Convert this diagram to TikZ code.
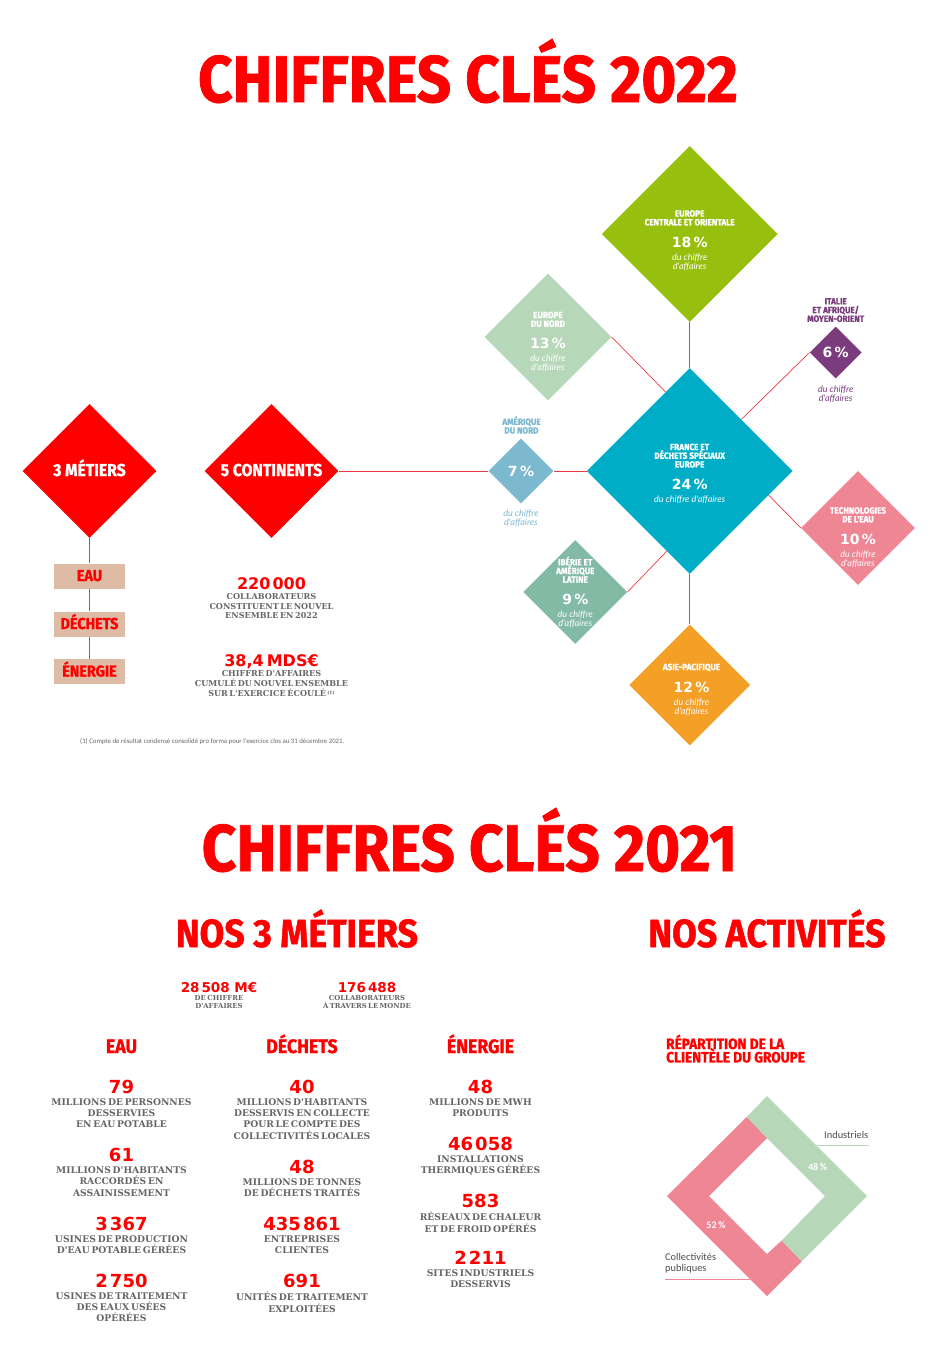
\documentclass[tikz,border=0pt]{standalone}
\usepackage{fontspec}
\usetikzlibrary{shapes.geometric}

\newfontfamily\headfont[BoldFeatures={FakeBold=1.2},FakeStretch=0.91]{Fira Sans}
\newfontfamily\numfont{DejaVu Sans}
\newfontfamily\slabfont[WordSpace=0.55]{DejaVu Serif}
\newfontfamily\duefont{Lato}
\newfontfamily\notefont{Carlito}

\newcommand{\topfix}{\lineskiplimit=-100pt\rule{0pt}{0.7\baselineskip}}

\definecolor{vividred}{HTML}{FF0000}
\definecolor{linkred}{HTML}{EE3B45}
\definecolor{slabgrey}{HTML}{666666}
\definecolor{boxsand}{HTML}{DDBBA5}
\definecolor{zonegreen}{HTML}{97BF0D}
\definecolor{zonemint}{HTML}{B6D8B8}
\definecolor{zonepurple}{HTML}{7B3C7E}
\definecolor{zoneblue}{HTML}{00ADC6}
\definecolor{zonesky}{HTML}{7DB9CE}
\definecolor{zonepink}{HTML}{EE8694}
\definecolor{zoneteal}{HTML}{82BAA6}
\definecolor{zoneorange}{HTML}{F49F25}

\tikzset{
  bigtitle/.style={anchor=base, inner sep=0pt, text=vividred, font=\headfont\bfseries\fontsize{66}{66}\selectfont},
  subtitle/.style={anchor=base, inner sep=0pt, text=vividred, font=\headfont\bfseries\fontsize{39.3}{39.3}\selectfont},
  jobtitle/.style={anchor=base, inner sep=0pt, text=vividred, font=\headfont\bfseries\fontsize{19.5}{19.5}\selectfont},
  numtext/.style={anchor=base, inner sep=0pt, text=vividred, font=\numfont\bfseries\fontsize{18}{18}\selectfont},
  midnum/.style={numtext, font=\numfont\bfseries\fontsize{16}{16}\selectfont},
  smallnum/.style={numtext, font=\numfont\bfseries\fontsize{13.5}{13.5}\selectfont},
  labeltext/.style={anchor=north, inner sep=0pt, yshift=-1pt, align=center, text=slabgrey, execute at begin node=\topfix,
    font=\slabfont\bfseries\fontsize{9.2}{11.4}\selectfont},
  midlabel/.style={labeltext, font=\slabfont\bfseries\fontsize{8.1}{9.8}\selectfont},
  smalllabel/.style={labeltext, font=\slabfont\bfseries\fontsize{6.9}{8}\selectfont},
  zone/.style={diamond, aspect=1, draw=none, inner sep=0pt, text=white, text height=10pt, text depth=0pt},
  bigzone/.style={zone, fill=vividred, minimum size=134pt, font=\headfont\bfseries\fontsize{17.3}{17.3}\selectfont},
  zonetext/.style={anchor=north, inner sep=0pt, align=center, text=white, execute at begin node=\topfix,
    font=\headfont\bfseries\fontsize{9}{8.7}\selectfont},
  pcttext/.style={anchor=base, inner sep=0pt, text=white, font=\numfont\bfseries\fontsize{14}{14}\selectfont},
  duetext/.style={anchor=north, inner sep=0pt, align=center, text=white, execute at begin node=\topfix,
    font=\duefont\itshape\fontsize{9}{8.7}\selectfont},
  metier/.style={rectangle, fill=boxsand, inner sep=0pt, minimum width=71pt, minimum height=25pt, text=vividred,
    text height=10pt, text depth=0pt, font=\headfont\bfseries\fontsize{15.8}{15.8}\selectfont},
  link/.style={draw=linkred, line width=0.7pt},
  ringtext/.style={inner sep=0pt, text=white, font=\notefont\bfseries\fontsize{10}{10}\selectfont},
  sidetext/.style={inner sep=0pt, align=left, text=black!70, font=\notefont\fontsize{10.4}{10.6}\selectfont}
}

\begin{document}
\begin{tikzpicture}[x=1pt,y=-1pt]

\useasboundingbox (0,0) rectangle (936,1345);
\fill[white] (0,0) rectangle (936,1345);

% Titles
\node[bigtitle] (titleA) at (468,102) {CHIFFRES CLÉS 2022};
\node[bigtitle] (titleB) at (469.5,871) {CHIFFRES CLÉS 2021};
\node[subtitle] (nosMetiers) at (297,947) {NOS 3 MÉTIERS};
\node[subtitle] (nosActivites) at (767,947) {NOS ACTIVITÉS};

% The two red diamonds
\node[bigzone] (metiers) at (89.5,471) {3 MÉTIERS};
\node[bigzone] (continents) at (271.5,471) {5 CONTINENTS};

% The three boxes
\node[metier] (boxEau) at (89.5,576) {EAU};
\node[metier] (boxDechets) at (89.5,624) {DÉCHETS};
\node[metier] (boxEnergie) at (89.5,671.5) {ÉNERGIE};

% The zones
\node[zone, fill=zoneblue, minimum size=206pt] (france) at (689.7,471) {};
\node[zone, fill=zonegreen, minimum size=176pt] (centrale) at (689.7,234) {};
\node[zone, fill=zonemint, minimum size=127pt] (nord) at (548,337) {};
\node[zone, fill=zonepurple, minimum size=52pt, font=\numfont\bfseries\fontsize{14}{14}\selectfont] (italie) at (835.7,352.5) {6\,\%};
\node[zone, fill=zonesky, minimum size=65pt, font=\numfont\bfseries\fontsize{14}{14}\selectfont] (amerique) at (521,471) {7\,\%};
\node[zone, fill=zonepink, minimum size=114pt] (techno) at (858,528) {};
\node[zone, fill=zoneteal, minimum size=104pt] (iberie) at (575.3,592) {};
\node[zone, fill=zoneorange, minimum size=121pt] (asie) at (689.7,685) {};

% Connectors
\draw[link] (metiers.south) -- (boxEau.north);
\draw[link] (boxEau.south) -- (boxDechets.north);
\draw[link] (boxDechets.south) -- (boxEnergie.north);
\draw[link] (continents.east) -- (amerique.west);
\draw[link] (amerique.east) -- (france.west);
\draw[link] (centrale.south) -- (france.north);
\draw[link] (nord.east) -- (france.107);
\draw[link] (italie.west) -- (france.north east);
\draw[link] (techno.west) -- (france.-17);
\draw[link] (iberie.east) -- (france.254);
\draw[link] (asie.north) -- (france.south);

% Zone texts
\node[zonetext] (centraleName) at (689.7,210) {EUROPE\\CENTRALE ET ORIENTALE};
\node[pcttext] (centralePct) at (689.7,247) {18\,\%};
\node[duetext] (centraleDue) at (689.7,254) {du chiffre\\d'affaires};

\node[zonetext] (nordName) at (548,311.5) {EUROPE\\DU NORD};
\node[pcttext] (nordPct) at (548,348.5) {13\,\%};
\node[duetext] (nordDue) at (548,354.5) {du chiffre\\d'affaires};

\node[zonetext, text=zonepurple] (italieName) at (835.7,298) {ITALIE\\ET AFRIQUE/\\MOYEN-ORIENT};
\node[duetext, text=zonepurple] (italieDue) at (835.7,386) {du chiffre\\d'affaires};

\node[zonetext] (franceName) at (689.7,443.5) {FRANCE ET\\DÉCHETS SPÉCIAUX\\EUROPE};
\node[pcttext] (francePct) at (689.7,489) {24\,\%};
\node[duetext] (franceDue) at (689.7,495.5) {du chiffre d'affaires};

\node[zonetext, text=zonesky] (ameriqueName) at (521.5,416) {AMÉRIQUE\\DU NORD};
\node[duetext, text=zonesky] (ameriqueDue) at (521,510) {du chiffre\\d'affaires};

\node[zonetext] (technoName) at (858,507) {TECHNOLOGIES\\DE L'EAU};
\node[pcttext] (technoPct) at (858,544) {10\,\%};
\node[duetext] (technoDue) at (858,551) {du chiffre\\d'affaires};

\node[zonetext] (iberieName) at (575.3,556.5) {IBÉRIE ET\\AMÉRIQUE\\LATINE};
\node[pcttext] (iberiePct) at (575.3,604.5) {9\,\%};
\node[duetext] (iberieDue) at (575.3,610.5) {du chiffre\\d'affaires};

\node[zonetext] (asieName) at (691.5,663.5) {ASIE-PACIFIQUE};
\node[pcttext] (asiePct) at (691.5,692) {12\,\%};
\node[duetext] (asieDue) at (691.5,698.5) {du chiffre\\d'affaires};

% 2022 figures
\node[midnum] (staffNum) at (271.5,589) {220\kern2pt000};
\node[midlabel] (staffLbl) at (271.5,592) {COLLABORATEURS\\CONSTITUENT LE NOUVEL\\ENSEMBLE EN 2022};
\node[midnum] (salesNum) at (271.5,666) {38,4\kern3pt MDS€};
\node[midlabel] (salesLbl) at (271.5,669.5) {CHIFFRE D'AFFAIRES\\CUMULÉ DU NOUVEL ENSEMBLE\\SUR L'EXERCICE ÉCOULÉ\,\raisebox{2pt}{\fontsize{4.5}{4.5}\selectfont(1)}};
\node[inner sep=0pt, anchor=base west, text=black!60, font=\notefont\fontsize{6.8}{7}\selectfont] (footnote) at (80,743.5)
  {(1) Compte de résultat condensé consolidé pro forma pour l'exercice clos au 31 décembre 2021.};

% 2021 group figures
\node[smallnum] (groupSales) at (219,992) {28\kern2pt508 M€};
\node[smalllabel] (groupSalesLbl) at (219,994.5) {DE CHIFFRE\\D'AFFAIRES};
\node[smallnum] (groupStaff) at (367,992) {176\kern2pt488};
\node[smalllabel] (groupStaffLbl) at (367,994.5) {COLLABORATEURS\\À TRAVERS LE MONDE};

% Eau column
\node[jobtitle] (eauHead) at (121.5,1053) {EAU};
\node[numtext] (eauNumA) at (121.5,1093) {79};
\node[labeltext] (eauLblA) at (121.5,1097) {MILLIONS DE PERSONNES\\DESSERVIES\\EN EAU POTABLE};
\node[numtext] (eauNumB) at (121.5,1161.5) {61};
\node[labeltext] (eauLblB) at (121.5,1165.5) {MILLIONS D'HABITANTS\\RACCORDÉS EN\\ASSAINISSEMENT};
\node[numtext] (eauNumC) at (121.5,1230) {3\kern2pt367};
\node[labeltext] (eauLblC) at (121.5,1234) {USINES DE PRODUCTION\\D'EAU POTABLE GÉRÉES};
\node[numtext] (eauNumD) at (121.5,1287) {2\kern2pt750};
\node[labeltext] (eauLblD) at (121.5,1291) {USINES DE TRAITEMENT\\DES EAUX USÉES\\OPÉRÉES};

% Dechets column
\node[jobtitle] (decHead) at (302,1053) {DÉCHETS};
\node[numtext] (decNumA) at (302,1093) {40};
\node[labeltext] (decLblA) at (302,1097) {MILLIONS D'HABITANTS\\DESSERVIS EN COLLECTE\\POUR LE COMPTE DES\\COLLECTIVITÉS LOCALES};
\node[numtext] (decNumB) at (302,1173) {48};
\node[labeltext] (decLblB) at (302,1177) {MILLIONS DE TONNES\\DE DÉCHETS TRAITÉS};
\node[numtext] (decNumC) at (302,1230) {435\kern2pt861};
\node[labeltext] (decLblC) at (302,1234) {ENTREPRISES\\CLIENTES};
\node[numtext] (decNumD) at (302,1287) {691};
\node[labeltext] (decLblD) at (302,1291) {UNITÉS DE TRAITEMENT\\EXPLOITÉES};

% Energie column
\node[jobtitle] (eneHead) at (480.5,1053) {ÉNERGIE};
\node[numtext] (eneNumA) at (480.5,1093) {48};
\node[labeltext] (eneLblA) at (480.5,1097) {MILLIONS DE MWH\\PRODUITS};
\node[numtext] (eneNumB) at (480.5,1150) {46\kern2pt058};
\node[labeltext] (eneLblB) at (480.5,1154) {INSTALLATIONS\\THERMIQUES GÉRÉES};
\node[numtext] (eneNumC) at (480.5,1207) {583};
\node[labeltext] (eneLblC) at (480.5,1211) {RÉSEAUX DE CHALEUR\\ET DE FROID OPÉRÉS};
\node[numtext] (eneNumD) at (480.5,1264) {2\kern2pt211};
\node[labeltext] (eneLblD) at (480.5,1268) {SITES INDUSTRIELS\\DESSERVIS};

% Client split
\node[anchor=north west, inner sep=0pt, align=left, text=vividred, execute at begin node=\topfix,
  font=\headfont\bfseries\fontsize{15}{13.4}\selectfont] (clientHead) at (666,1034.5)
  {RÉPARTITION DE LA\\CLIENTÈLE DU GROUPE};

\coordinate (T) at (767,1096);
\coordinate (E) at (867,1196);
\coordinate (S) at (767,1296);
\coordinate (W) at (667,1196);
\coordinate (iT) at (767,1138);
\coordinate (iE) at (825,1196);
\coordinate (iS) at (767,1254);
\coordinate (iW) at (709,1196);
\coordinate (cutA) at (746.7,1117);
\coordinate (cutB) at (801.7,1261.3);
\coordinate (cutC) at (781.7,1240.5);

\fill[zonepink] (cutA) -- (W) -- (S) -- (cutB) -- (cutC) -- (iS) -- (iW) -- (iT) -- cycle;
\fill[zonemint] (T) -- (E) -- (cutB) -- (cutC) -- (iE) -- (iT) -- (cutA) -- cycle;

\node[ringtext] (pctInd) at (817.7,1167.5) {48\,\%};
\node[ringtext] (pctCol) at (716,1225.5) {52\,\%};

\node[sidetext, anchor=base east] (indLbl) at (868.5,1138) {Industriels};
\coordinate (indStart) at (817,1145.7);
\coordinate (indEnd) at (869,1145.7);
\draw[zonemint, line width=0.7pt] (indStart) -- (indEnd);

\node[sidetext, anchor=north west, execute at begin node=\topfix] (colLbl) at (665,1253.5) {Collectivités\\publiques};
\coordinate (colStart) at (665,1279.5);
\coordinate (colEnd) at (750,1279.5);
\draw[zonepink, line width=0.7pt] (colStart) -- (colEnd);

\end{tikzpicture}
\end{document}
